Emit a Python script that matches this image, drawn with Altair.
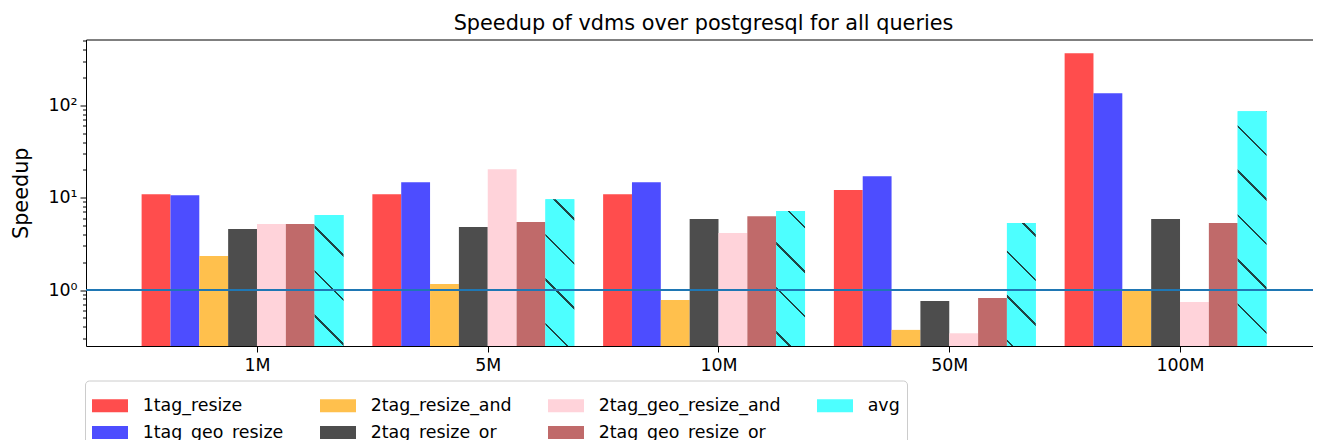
import math
import altair as alt
import pandas as pd

# ---- data ----
groups = ["1M", "5M", "10M", "50M", "100M"]
series = ["1tag_resize", "1tag_geo_resize", "2tag_resize_and", "2tag_resize_or",
          "2tag_geo_resize_and", "2tag_geo_resize_or", "avg"]
colors = ["#ff4d4d", "#4d4dff", "#ffc04d", "#4d4d4d", "#ffd3da", "#c06a6a", "#4dffff"]

v_1tag_resize = [10.9, 10.9, 10.9, 12.1, 365]
v_1tag_geo_resize = [10.6, 14.7, 14.7, 17.1, 135]
v_2tag_resize_and = [2.33, 1.16, 0.78, 0.37, 0.98]
v_2tag_resize_or = [4.57, 4.8, 5.86, 0.76, 5.86]
v_2tag_geo_resize_and = [5.17, 20.3, 4.13, 0.34, 0.74]
v_2tag_geo_resize_or = [5.17, 5.44, 6.3, 0.82, 5.3]
v_avg = [6.47, 9.6, 7.15, 5.3, 86]

values = [v_1tag_resize, v_1tag_geo_resize, v_2tag_resize_and, v_2tag_resize_or,
          v_2tag_geo_resize_and, v_2tag_geo_resize_or, v_avg]

# legend order (matplotlib fills columns first, 4 columns x 2 rows)
legend_order = ["1tag_resize", "2tag_resize_and", "2tag_geo_resize_and", "avg",
                "1tag_geo_resize", "2tag_resize_or", "2tag_geo_resize_or"]
legend_colors = [colors[series.index(s)] for s in legend_order]

rows = []
for k, s in enumerate(series):
    for g, grp in enumerate(groups):
        rows.append({"group": grp, "g": g, "series": s, "k": k, "value": values[k][g]})
df = pd.DataFrame(rows)

FONT = "DejaVu Sans"
PLOT_W, PLOT_H = 1235, 306.5
Y_MIN, Y_MAX = 0.2476, 515.8
X_MIN, X_MAX = -0.741, 4.611
BW = 0.125

major = [1, 10, 100]
minor = [m * 10.0 ** e for e in (-1, 0, 1, 2) for m in range(2, 10)]
minor = [v for v in minor if Y_MIN <= v <= Y_MAX]
ytick_vals = sorted(major + minor)

label_expr_x = "[" + ",".join("'%s'" % g for g in groups) + "][datum.value]"

x_enc = alt.X("x0:Q",
              scale=alt.Scale(domain=[X_MIN, X_MAX], nice=False, zero=False),
              axis=alt.Axis(values=list(range(len(groups))), labelExpr=label_expr_x,
                            title=None, grid=False, domain=False, tickSize=6,
                            tickColor="black", labelColor="black", labelFont=FONT,
                            labelFontSize=17.4, labelPadding=4, labelFlush=False))
y_enc = alt.Y("value:Q",
              scale=alt.Scale(type="log", domain=[Y_MIN, Y_MAX], nice=False),
              axis=alt.Axis(values=ytick_vals,
                            labelExpr="datum.value == 1 ? '10⁰' : datum.value == 10 ? '10¹' : datum.value == 100 ? '10²' : ''",
                            title="Speedup", titleFont=FONT, titleFontSize=20.8,
                            titleFontWeight="normal", titleColor="black", titlePadding=16,
                            grid=False, domain=False,
                            tickSize={"condition": {"test": "datum.value == 1 || datum.value == 10 || datum.value == 100", "value": 6}, "value": 3.5},
                            tickColor="black", labelColor="black", labelFont=FONT,
                            labelFontSize=17.4, labelPadding=3, labelOverlap=False,
                            labelFlush=False))

calc = dict(x0=f"datum.g + (datum.k - 4) * {BW}",
            x1=f"datum.g + (datum.k - 3) * {BW}")

bars = alt.Chart(df).transform_calculate(**calc).mark_bar(strokeWidth=0).encode(
    x=x_enc, x2="x1:Q", y=y_enc, y2=alt.datum(Y_MIN),
    color=alt.Color("series:N",
                    scale=alt.Scale(domain=legend_order, range=legend_colors),
                    title=None,
                    legend=alt.Legend(orient="none", legendX=-1, legendY=341,
                                      columns=4, direction="horizontal",
                                      symbolType="M-1,-0.36H1V0.36H-1Z",
                                      symbolSize=1296, symbolStrokeWidth=0,
                                      symbolOpacity=1, labelLimit=400,
                                      labelFont=FONT, labelFontSize=17.4,
                                      labelColor="black", labelOffset=14.7,
                                      columnPadding=36, rowPadding=0, padding=7,
                                      strokeColor="#cccccc", cornerRadius=4,
                                      fillColor="white")),
)

# ---- "\" hatch style for the avg bars (a striped gradient fill) ----
HATCH_COLOR = "#1f4545"
CYAN = colors[series.index("avg")]
PITCH, LINE, PHASE = 44.5, 2.2, 3.0
bar_w = PLOT_W * BW / (X_MAX - X_MIN)
log_span = math.log10(Y_MAX) - math.log10(Y_MIN)


def hatch_gradient(g):
    h = PLOT_H * (math.log10(v_avg[g]) - math.log10(Y_MIN)) / log_span
    left = PLOT_W * (g + 2 * BW - X_MIN) / (X_MAX - X_MIN)
    top = PLOT_H - h
    D = bar_w + h
    c = (bar_w + h) / (bar_w ** 2 + h ** 2)
    q0 = (PHASE + bar_w - top + left) % PITCH
    stops = [{"offset": 0, "color": CYAN}]
    q = q0 - PITCH
    while q < D + PITCH:
        a, b = (q - LINE / 2) / D, (q + LINE / 2) / D
        if b > 0 and a < 1:
            a, b = max(a, 0.0), min(b, 1.0)
            stops += [{"offset": a, "color": CYAN}, {"offset": a, "color": HATCH_COLOR},
                      {"offset": b, "color": HATCH_COLOR}, {"offset": b, "color": CYAN}]
        q += PITCH
    stops.append({"offset": 1, "color": CYAN})
    return {"gradient": "linear", "x1": 1, "y1": 0,
            "x2": 1 - bar_w * c, "y2": h * c, "stops": stops}


hatch_layers = [
    alt.Chart(df).transform_filter(f"datum.series == 'avg' && datum.g == {g}")
    .transform_calculate(**calc)
    .mark_bar(fill=hatch_gradient(g), strokeWidth=0)
    .encode(x=x_enc, x2="x1:Q", y=y_enc, y2=alt.datum(Y_MIN))
    for g in range(len(groups))
]

rule = alt.Chart(pd.DataFrame({"y": [1]})).mark_rule(
    color="#1f77b4", strokeWidth=2).encode(y="y:Q")

chart = alt.layer(bars, *hatch_layers, rule).properties(
    width=PLOT_W, height=PLOT_H,
    title=alt.TitleParams("Speedup of vdms over postgresql for all queries",
                          font=FONT, fontSize=20.8, fontWeight="normal",
                          color="black", offset=-3),
    autosize=alt.AutoSizeParams(type="none"),
    padding={"left": 78, "top": 31.5, "right": -8, "bottom": 94},
).configure_view(stroke="black", strokeWidth=1)

chart.save("out.html", embed_options={"renderer": "svg", "actions": False})
